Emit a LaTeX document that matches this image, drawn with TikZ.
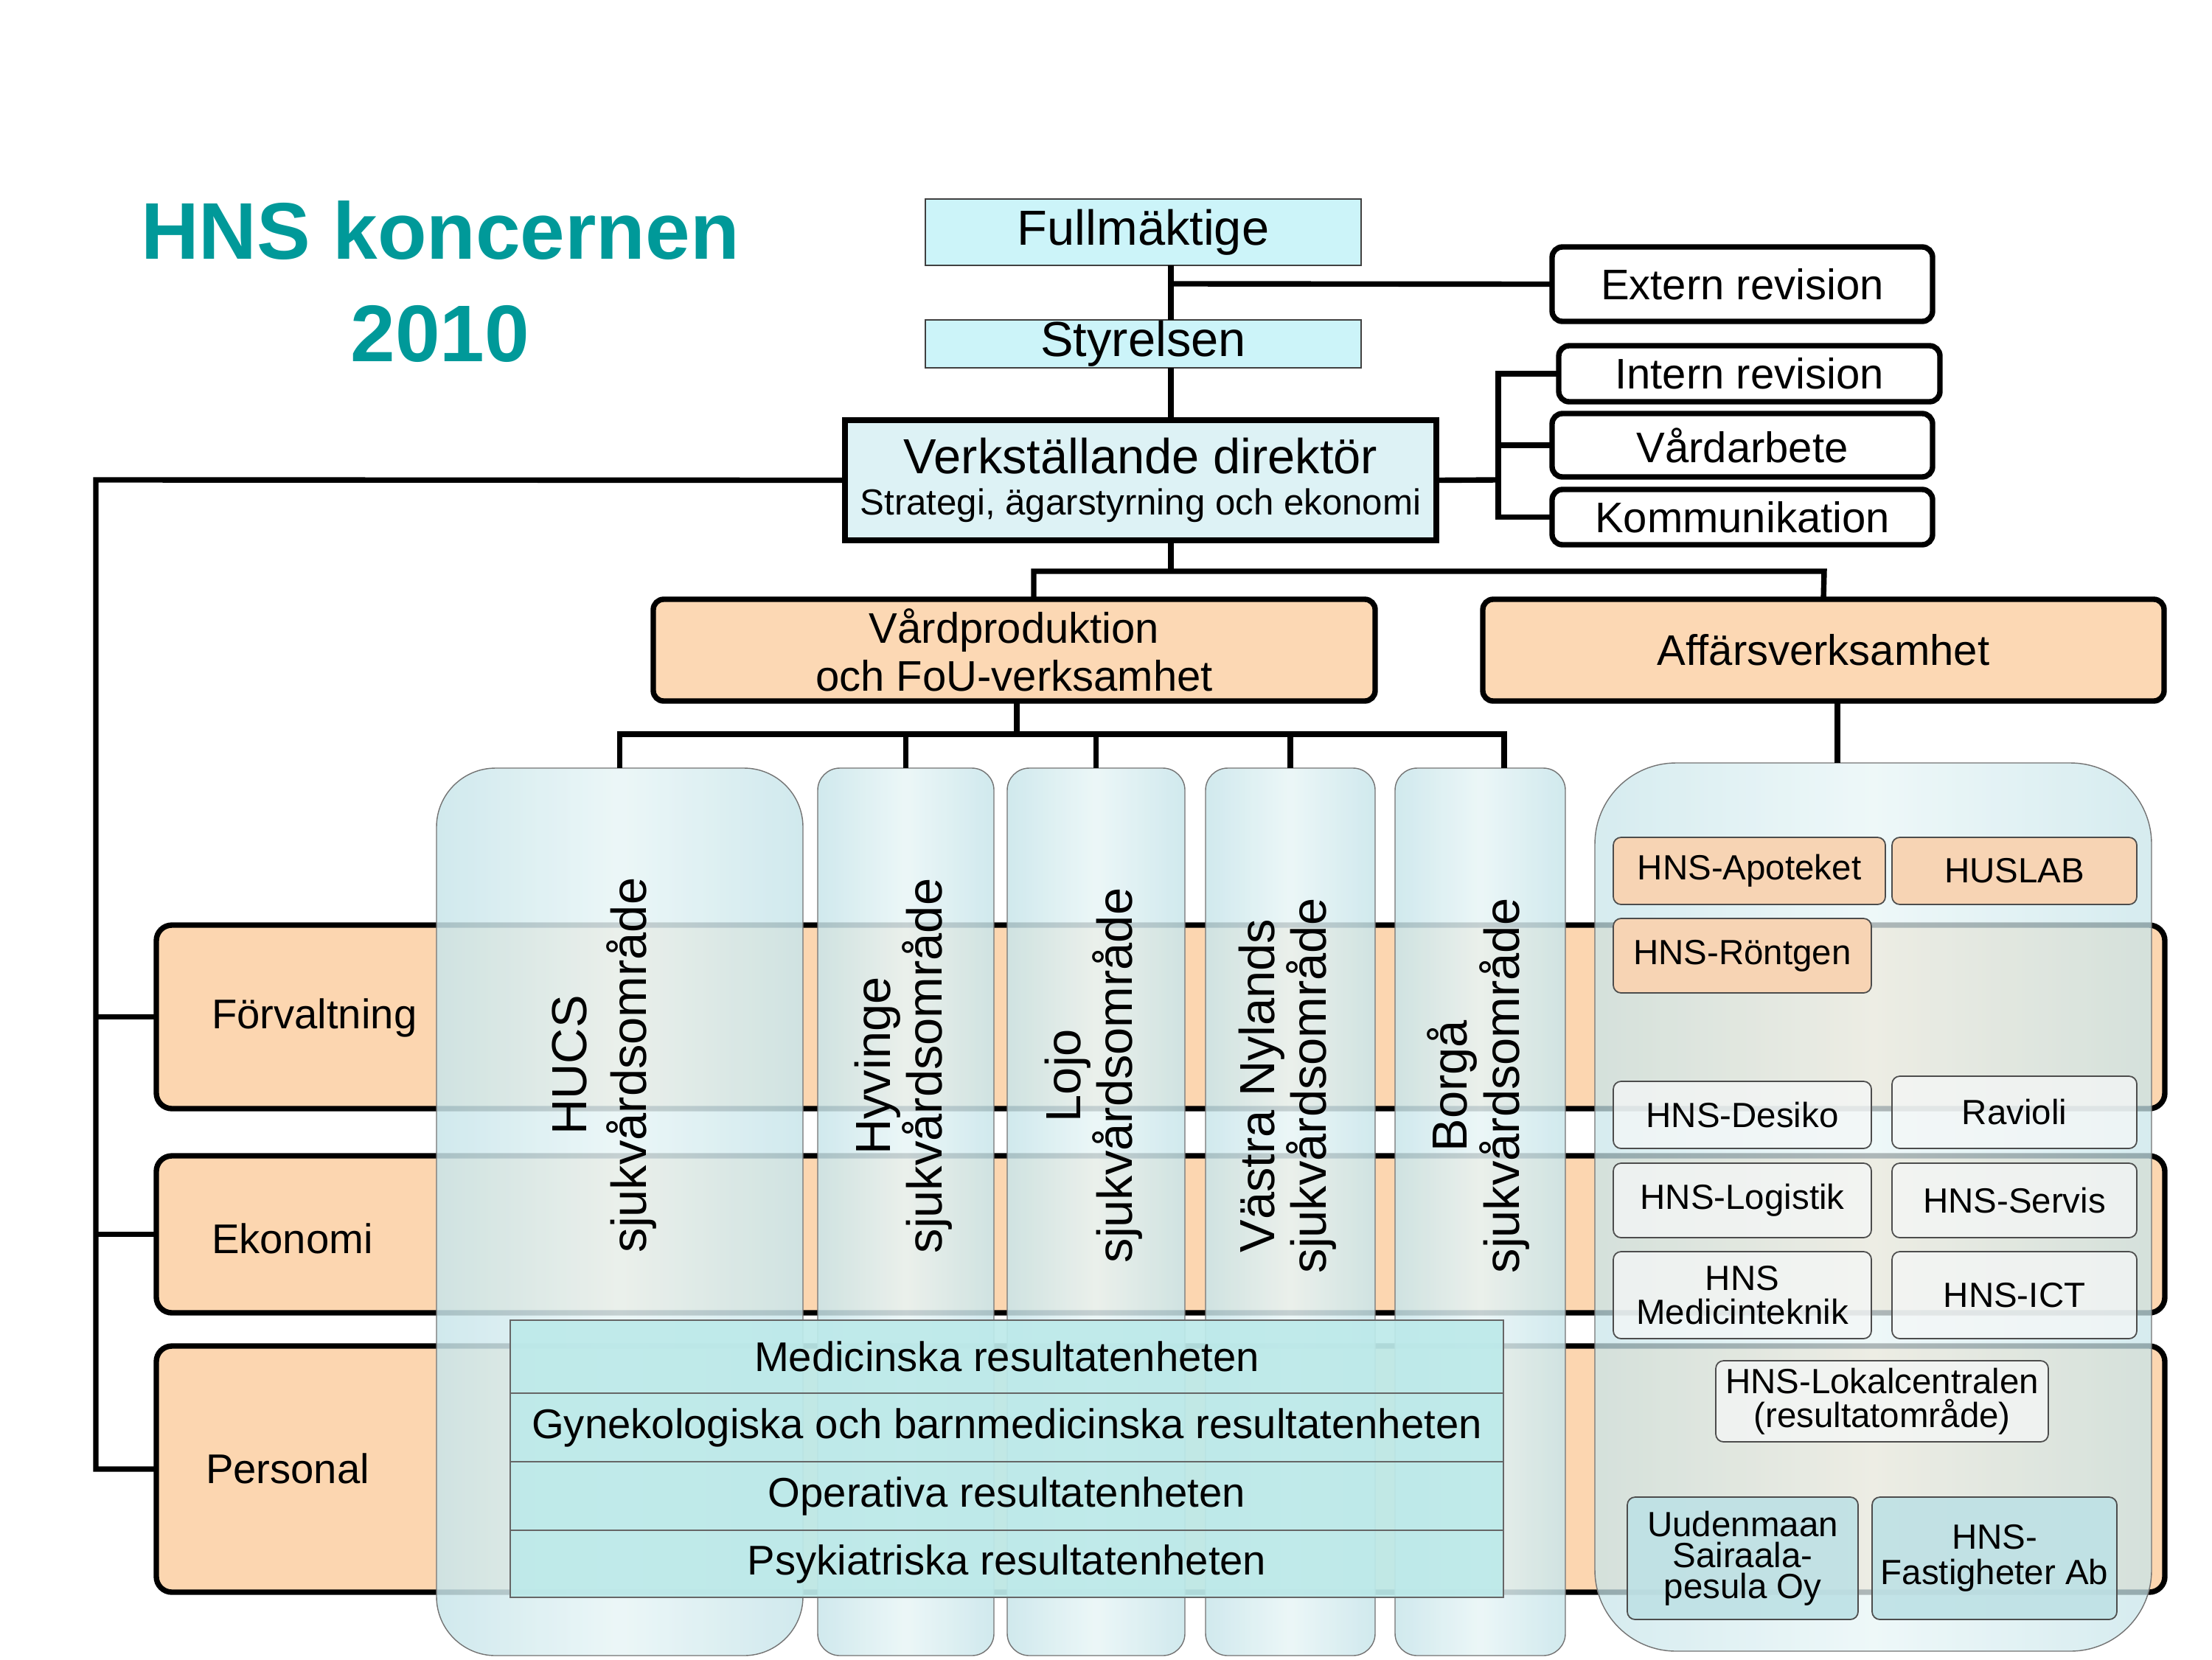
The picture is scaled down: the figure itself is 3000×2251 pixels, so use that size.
\documentclass[tikz,border=0pt]{standalone}
\usepackage{fontspec}
\setmainfont{Liberation Sans}
\definecolor{hnsteal}{HTML}{009999}
\definecolor{cyanbox}{HTML}{CCF4F9}
\definecolor{vdfill}{HTML}{DDF2F5}
\definecolor{peach}{HTML}{FCD8B4}
\definecolor{bandpeach}{HTML}{FCD6B0}
\definecolor{colA}{HTML}{C8E5EA}
\definecolor{colB}{HTML}{E8F5F6}
\definecolor{resfill}{HTML}{BDEAEA}
\definecolor{innerpeach}{HTML}{F7D4B4}
\definecolor{innerwhite}{HTML}{F5F7F7}
\definecolor{innerteal}{HTML}{BEE1E5}
\begin{document}
\begin{tikzpicture}[x=0.01cm,y=-0.01cm,
  every node/.style={inner sep=0pt,outer sep=0pt},
  area/.style n args={4}{at={({(#1+#3)/2},{(#2+#4)/2})},minimum width={(#3-#1)*0.01cm},minimum height={(#4-#2)*0.01cm}},
  conn/.style={line width=2.1pt},
  titletext/.style={text=hnsteal,font=\fontsize{31}{37}\selectfont\bfseries,anchor=base},
  topbox/.style={draw=black!75,line width=0.6pt,fill=cyanbox,font=\fontsize{19}{22}\selectfont},
  vdbox/.style={draw,line width=2.2pt,fill=vdfill,align=center,font=\fontsize{14}{16}\selectfont},
  staffbox/.style={draw,line width=2.1pt,fill=white,rounded corners=4pt,font=\fontsize{16.5}{19}\selectfont},
  divbox/.style={draw,line width=2.1pt,fill=peach,rounded corners=4pt,align=center,font=\fontsize{16.5}{18.5}\selectfont},
  bandbox/.style={draw,line width=2.1pt,fill=bandpeach,rounded corners=6pt},
  bandtext/.style={anchor=west,font=\fontsize{16}{19}\selectfont},
  colbox/.style={draw=black!55,line width=0.4pt,left color=colA,right color=colA,middle color=colB,fill opacity=0.85},
  coltext/.style={rotate=90,align=center,font=\fontsize{19}{20}\selectfont},
  resbox/.style={draw=black!60,line width=0.5pt,fill=resfill,fill opacity=0.93,text opacity=1,font=\fontsize{16}{19}\selectfont},
  panelbox/.style={draw=black!55,line width=0.4pt,left color=colA,right color=colA,middle color=colB,fill opacity=0.75,rounded corners=1.1cm},
  subbox/.style={draw=black!70,line width=0.5pt,rounded corners=3pt,align=center,text opacity=1,font=\fontsize{13.5}{13}\selectfont},
  subpeach/.style={subbox,fill=innerpeach},
  subwhite/.style={subbox,fill=innerwhite,fill opacity=0.75},
  subteal/.style={subbox,fill=innerteal,fill opacity=0.9}
]
\useasboundingbox (0,0) rectangle (3000,2251);

% title
\node[titletext] (title1) at (597,351) {HNS koncernen};
\node[titletext] (title2) at (597,490) {2010};

% bands
\node[bandbox,area={212}{1255}{2936}{1504}] (forv) {};
\node[bandbox,area={212}{1568}{2936}{1781}] (ekon) {};
\node[bandbox,area={212}{1826}{2936}{2160}] (pers) {};
\node[bandtext] (forvT) at (287,1381) {Förvaltning};
\node[bandtext] (ekonT) at (287,1680) {Ekonomi};
\node[bandtext] (persT) at (279,1992) {Personal};

% columns
\node[colbox,rounded corners=0.8cm,area={592}{1042}{1089}{2246}] (hucs) {};
\node[colbox,rounded corners=0.3cm,area={1109}{1042}{1348}{2246}] (hyv) {};
\node[colbox,rounded corners=0.3cm,area={1366}{1042}{1607}{2246}] (lojo) {};
\node[colbox,rounded corners=0.3cm,area={1635}{1042}{1865}{2246}] (vnyl) {};
\node[colbox,rounded corners=0.3cm,area={1892}{1042}{2123}{2246}] (borga) {};
\node[coltext,font=\fontsize{19}{23}\selectfont] (hucsT) at (820,1445) {HUCS\\sjukvårdsområde};
\node[coltext] (hyvT) at (1225,1446) {Hyvinge\\sjukvårdsområde};
\node[coltext] (lojoT) at (1483,1459) {Lojo\\sjukvårdsområde};
\node[coltext] (vnylT) at (1746,1473) {Västra Nylands\\sjukvårdsområde};
\node[coltext] (borgaT) at (2005,1473) {Borgå\\sjukvårdsområde};

% result units
\node[resbox,area={692}{1791}{2039}{1890}] (med) {Medicinska resultatenheten};
\node[resbox,area={692}{1890}{2039}{1983}] (gyn) {Gynekologiska och barnmedicinska resultatenheten};
\node[resbox,area={692}{1983}{2039}{2076}] (oper) {Operativa resultatenheten};
\node[resbox,area={692}{2076}{2039}{2167}] (psyk) {Psykiatriska resultatenheten};

% business panel
\node[panelbox,area={2163}{1035}{2918}{2240}] (affp) {};
\node[subpeach,area={2188}{1136}{2557}{1227}] (apo) {HNS-Apoteket};
\node[subpeach,area={2566}{1136}{2898}{1227}] (huslab) {HUSLAB};
\node[subpeach,area={2188}{1246}{2538}{1347}] (ront) {HNS-Röntgen};
\node[subwhite,area={2188}{1467}{2538}{1558}] (desiko) {HNS-Desiko};
\node[subwhite,area={2566}{1460}{2898}{1558}] (ravioli) {Ravioli};
\node[subwhite,area={2188}{1578}{2538}{1679}] (logistik) {HNS-Logistik};
\node[subwhite,area={2566}{1578}{2898}{1679}] (servis) {HNS-Servis};
\node[subwhite,area={2188}{1698}{2538}{1816}] (medtek) {HNS\\Medicinteknik};
\node[subwhite,area={2566}{1698}{2898}{1816}] (ict) {HNS-ICT};
\node[subwhite,area={2327}{1846}{2778}{1956}] (lokal) {HNS-Lokalcentralen\\(resultatområde)};
\node[subteal,font=\fontsize{13.5}{12}\selectfont,area={2207}{2031}{2520}{2197}] (uuden) {Uudenmaan\\Sairaala-\\pesula Oy};
\node[subteal,font=\fontsize{13.5}{13.5}\selectfont,area={2539}{2031}{2871}{2197}] (fastig) {HNS-\\Fastigheter Ab};

% top boxes
\node[topbox,area={1255}{270}{1846}{360}] (full) {Fullmäktige};
\node[topbox,area={1255}{434}{1846}{499}] (styr) {Styrelsen};
\node[vdbox,area={1146}{570}{1948}{733}] (vd) {{\fontsize{19}{22}\selectfont Verkställande direktör}\\Strategi, ägarstyrning och ekonomi};
\node[staffbox,area={2105}{335}{2621}{436}] (ext) {Extern revision};
\node[staffbox,area={2114}{469}{2631}{545}] (intern) {Intern revision};
\node[staffbox,area={2105}{561}{2621}{647}] (vard) {Vårdarbete};
\node[staffbox,area={2105}{664}{2621}{739}] (komm) {Kommunikation};
\node[divbox,area={886}{813}{1865}{951}] (vprod) {Vårdproduktion\\och FoU-verksamhet};
\node[divbox,area={2011}{813}{2935}{951}] (affar) {Affärsverksamhet};

% connectors
\coordinate (sp) at (1588,0);
\coordinate (jext) at (1588,385);
\coordinate (bx) at (2032,651);
\coordinate (ls) at (130,651);
\coordinate (vpj) at (1402,775);
\coordinate (afj) at (2474,775);
\coordinate (cj) at (1379,996);
\coordinate (bj) at (2040,996);
\coordinate (aj) at (2492,0);

\draw[conn] (full.south -| sp) -- (styr.north -| sp);
\draw[conn] (styr.south -| sp) -- (vd.north -| sp);
\draw[conn] (jext) -- (ext.west);
\draw[conn] (vd.east) -- (bx);
\draw[conn] (intern.west) -- (intern.west -| bx) -- (komm.west -| bx) -- (komm.west);
\draw[conn] (vard.west) -- (vard.west -| bx);
\draw[conn] (vd.west) -- (ls) -- (ls |- pers.west) -- (pers.west);
\draw[conn] (ls |- forv.west) -- (forv.west);
\draw[conn] (ls |- ekon.west) -- (ekon.west);
\draw[conn] (vd.south -| sp) -- (vpj -| sp);
\draw[conn] (vprod.north -| vpj) -- (vpj) -- (afj) -- (affar.north);
\draw[conn] (vprod.south -| cj) -- (cj);
\draw[conn] (hucs.north) -- (hucs.north |- cj) -- (bj) -- (bj |- borga.north);
\draw[conn] (hyv.north) -- (hyv.north |- cj);
\draw[conn] (lojo.north) -- (lojo.north |- cj);
\draw[conn] (vnyl.north) -- (vnyl.north |- cj);
\draw[conn] (affar.south -| aj) -- (affp.north -| aj);
\end{tikzpicture}
\end{document}
